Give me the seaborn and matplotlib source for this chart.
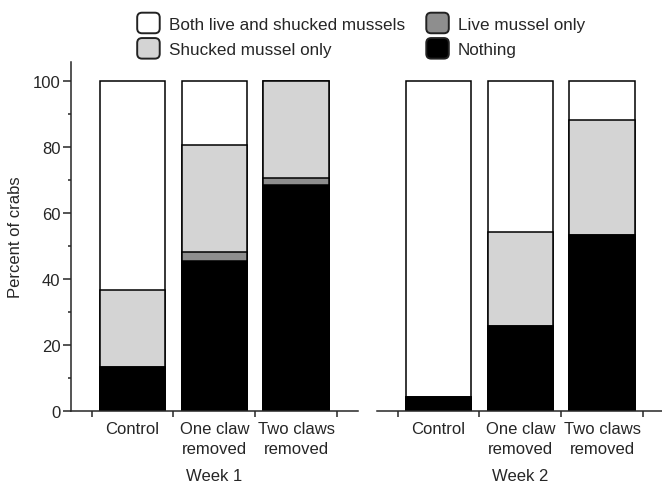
import matplotlib
matplotlib.use("Agg")
import matplotlib.pyplot as plt
from matplotlib.patches import Patch, FancyBboxPatch
from matplotlib.legend_handler import HandlerPatch
import numpy as np
import pandas as pd
import seaborn as sns

# Treatments shown in each week panel
treatments = ["Control", "One claw\nremoved", "Two claws\nremoved"]
weeks = ["Week 1", "Week 2"]

# Percent of crabs per outcome (stacked bottom -> top)
series = ["Nothing", "Live mussel only", "Shucked mussel only", "Both live and shucked mussels"]
week1_nothing = [13.5, 45.4, 68.5]
week1_live = [0.0, 3.0, 2.3]
week1_shucked = [23.3, 32.2, 29.2]
week1_both = [63.2, 19.4, 0.0]

week2_nothing = [4.2, 25.9, 53.3]
week2_live = [0.0, 0.0, 0.0]
week2_shucked = [0.0, 28.4, 34.9]
week2_both = [95.8, 45.7, 11.8]

colors = {
    "Nothing": "#000000",
    "Live mussel only": "#8e8e8e",
    "Shucked mussel only": "#d4d4d4",
    "Both live and shucked mussels": "#ffffff",
}

values = {
    "Week 1": [week1_nothing, week1_live, week1_shucked, week1_both],
    "Week 2": [week2_nothing, week2_live, week2_shucked, week2_both],
}

rows = []
for wk in weeks:
    cum = np.zeros(len(treatments))
    for name, vals in zip(series, values[wk]):
        cum = cum + np.asarray(vals, dtype=float)
        for t, v, c in zip(treatments, vals, cum):
            rows.append({"week": wk, "treatment": t, "series": name, "value": v, "cum": c})
df = pd.DataFrame(rows)

sns.set_theme(style="ticks")
plt.rcParams["font.family"] = ["Liberation Sans", "DejaVu Sans"]
plt.rcParams["font.size"] = 12

fig = plt.figure(figsize=(6.62, 4.85), dpi=100)
ax_w = 0.4344
ax_b = 0.1505
ax_h = 0.7202
ax1 = fig.add_axes([0.1068, ax_b, ax_w, ax_h])
ax2 = fig.add_axes([0.5690, ax_b, ax_w, ax_h])

lw = 1.1
for ax, wk in zip([ax1, ax2], weeks):
    sub = df[df["week"] == wk]
    # draw cumulative totals from the top layer down so each segment overlays the next
    for name in reversed(series):
        layer = sub[sub["series"] == name]
        sns.barplot(data=layer, x="treatment", y="cum", order=treatments,
                    color=colors[name], saturation=1, edgecolor="black",
                    linewidth=lw, width=0.8, errorbar=None, ax=ax)
    ax.set_xlim(-0.757, 2.76)
    ax.set_ylim(0, 106)
    ax.set_xticks(range(len(treatments)))
    ax.set_xticklabels(treatments, ha="center", multialignment="center",
                       linespacing=1.45)
    ax.set_xticks([-0.5, 0.5, 1.5, 2.5], minor=True)
    ax.tick_params(axis="x", which="major", length=0, pad=7, labelsize=12)
    ax.tick_params(axis="x", which="minor", length=4, width=lw, direction="out")
    ax.set_xlabel(wk, fontsize=12, labelpad=8.5)
    ax.set_ylabel("")
    for s in ["top", "right"]:
        ax.spines[s].set_visible(False)
    ax.spines["bottom"].set_linewidth(lw)
    ax.spines["left"].set_linewidth(lw)

ax1.set_yticks([0, 20, 40, 60, 80, 100])
ax1.set_yticks([10, 30, 50, 70, 90], minor=True)
ax1.tick_params(axis="y", which="major", length=5.5, width=lw, pad=2, labelsize=12)
ax1.tick_params(axis="y", which="minor", length=2.5, width=lw)
ax1.set_ylabel("Percent of crabs", fontsize=12)
ax1.yaxis.set_label_coords(-0.166, 0.5)

ax2.spines["left"].set_visible(False)
ax2.set_yticks([])
ax2.tick_params(axis="y", which="both", left=False, labelleft=False)


class RoundedHandle(HandlerPatch):
    def create_artists(self, legend, orig_handle, xdescent, ydescent,
                       width, height, fontsize, trans):
        p = FancyBboxPatch((-xdescent + 0.5, -ydescent + 0.5), width - 1, height - 1,
                           boxstyle="round,pad=0,rounding_size=3.5",
                           facecolor=orig_handle.get_facecolor(),
                           edgecolor="#222222", linewidth=1.4)
        p.set_transform(trans)
        return [p]


legend_order = ["Both live and shucked mussels", "Shucked mussel only",
                "Live mussel only", "Nothing"]
handles = [Patch(facecolor=colors[n], label=n) for n in legend_order]
fig.legend(handles=handles, labels=legend_order, ncol=2, frameon=False,
           loc="upper left", bbox_to_anchor=(136.5 / 662, 1 - 13.0 / 485),
           borderpad=0, borderaxespad=0, handlelength=1.4, handleheight=1.6,
           handletextpad=0.5, labelspacing=0.2, columnspacing=1.2, fontsize=12.3,
           handler_map={Patch: RoundedHandle()})

fig.savefig("out.png", dpi=100)
